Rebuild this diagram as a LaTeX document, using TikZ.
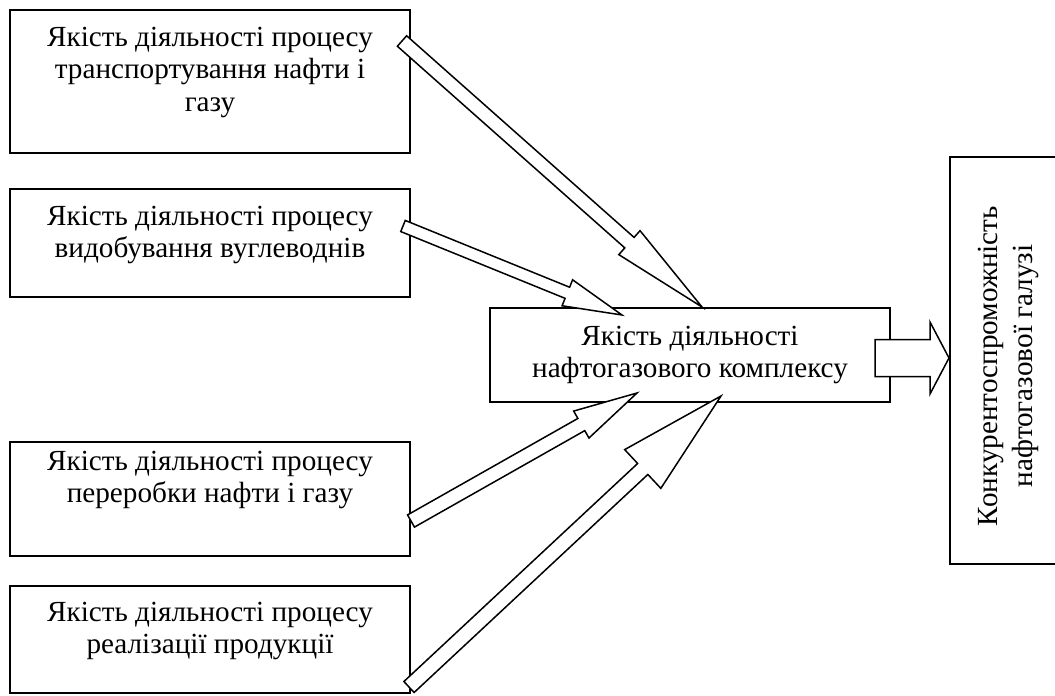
\documentclass[tikz,border=0pt]{standalone}
\usepackage{fontspec}
\setmainfont{Liberation Serif}
\usetikzlibrary{positioning,calc}
\tikzset{
  ramka/.style={draw, line width=2pt, minimum width=400pt, inner sep=0pt},
  napys/.style={align=center, inner sep=0pt, font=\fontsize{29.2}{32.5}\selectfont},
  strilka/.style={draw, fill=white, line width=1.5pt, line join=miter}
}
\begin{document}
\begin{tikzpicture}[x=1pt,y=-1pt]
  \clip (0,0) rectangle (1055,696);
  % ramky
  \node[ramka, minimum height=143pt] (transp) at (210,81.5) {};
  \node[ramka, minimum height=108pt] (vydob) at (210,243) {};
  \node[ramka, minimum height=114pt] (pererob) at (210,499) {};
  \node[ramka, minimum height=107pt] (realiz) at (210,639.5) {};
  \node[ramka, minimum height=94pt] (kompleks) at (690,355) {};
  \node[ramka, minimum width=120pt, minimum height=407pt] (galuz) at (1010,360.5) {};
  % kintsi strilok
  \coordinate (t1) at ($(transp.north east)+(-9,32)$);
  \coordinate (k1) at ($(kompleks.north west)+(213,0)$);
  \coordinate (t2) at ($(vydob.north east)+(-8,38)$);
  \coordinate (k2) at ($(kompleks.north west)+(133,8)$);
  \coordinate (t3) at ($(pererob.north east)+(0,80)$);
  \coordinate (k3) at ($(kompleks.south west)+(148,-10)$);
  \coordinate (t4) at ($(realiz.north east)+(-2,102)$);
  \coordinate (k4) at ($(kompleks.south west)+(232,-7)$);
  \coordinate (t5) at ($(kompleks.east)+(-16,3)$);
  \coordinate (k5) at ($(galuz.west)+(0,-2.5)$);
  \foreach \poch/\kin/\sh/\gh/\dh in {t1/k1/7/16/97, t2/k2/6/14/59, t3/k3/7/15.5/64,
      t4/k4/7.5/26.5/107, t5/k5/18.5/36/19}
  {
    \coordinate (B) at ($(\kin)!\dh pt!(\poch)$);
    \draw[strilka] ($(\poch)!\sh pt!90:(\kin)$) -- ($(B)!\sh pt!-90:(\poch)$)
      -- ($(B)!\gh pt!-90:(\poch)$) -- (\kin) -- ($(B)!\gh pt!90:(\poch)$)
      -- ($(B)!\sh pt!90:(\poch)$) -- ($(\poch)!\sh pt!-90:(\kin)$) -- cycle;
  }
  % napysy
  \node[napys, below=17.5pt of transp.north] (transp-t)
    {Якість діяльності процесу\\транспортування нафти і\\газу};
  \node[napys, below=17.5pt of vydob.north] (vydob-t)
    {Якість діяльності процесу\\видобування вуглеводнів};
  \node[napys, below=9.5pt of pererob.north] (pererob-t)
    {Якість діяльності процесу\\переробки нафти і газу};
  \node[napys, below=16.5pt of realiz.north] (realiz-t)
    {Якість діяльності процесу\\реалізації продукції};
  \node[napys, below=18.5pt of kompleks.north] (kompleks-t)
    {Якість діяльності\\нафтогазового комплексу};
  \node[napys, font=\fontsize{29.2}{35}\selectfont, rotate=90] (galuz-t) at (1008.5,366)
    {Конкурентоспроможність\\нафтогазової галузі};
\end{tikzpicture}
\end{document}
